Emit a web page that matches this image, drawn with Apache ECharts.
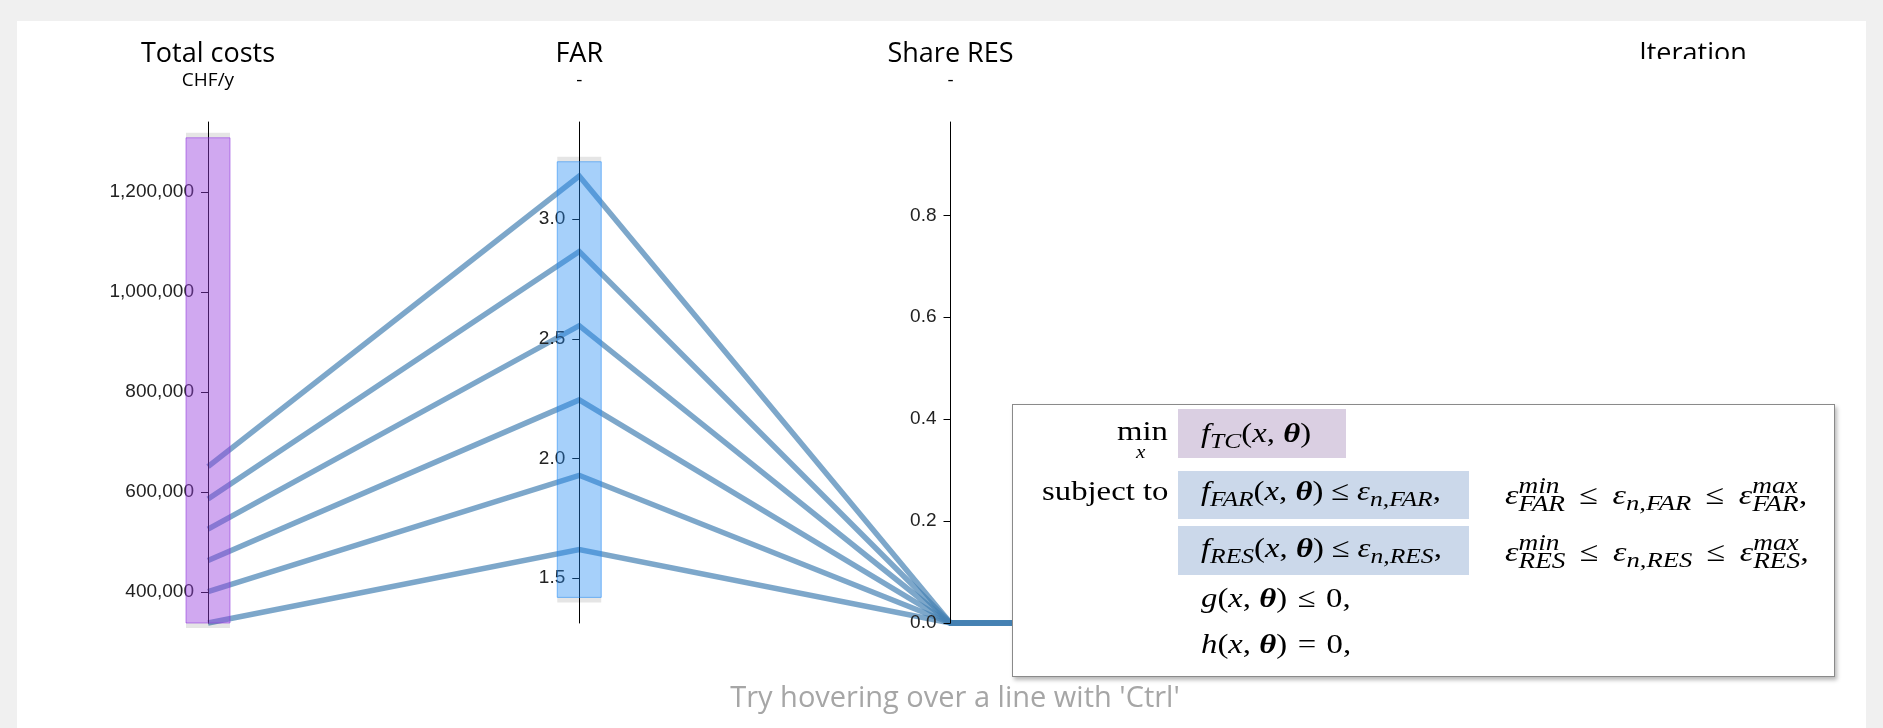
<!DOCTYPE html>
<html>
<head>
<meta charset="utf-8">
<script src="https://cdn.jsdelivr.net/npm/echarts@6/dist/echarts.min.js"></script>
<style>
  html, body { margin:0; padding:0; width:1883px; height:728px; overflow:hidden; background:#f0f0f0; }
  #panel { position:absolute; left:17px; top:21px; width:1849px; height:707px; background:#fff; }
  #chart { position:absolute; left:0; top:0; width:1883px; height:728px; }
  #box { position:absolute; left:1012px; top:404px; width:821px; height:271px; background:#fff;
         border:1px solid #8a8a8a; box-shadow:2px 3px 4px rgba(0,0,0,0.28); z-index:5;
         font-family:"Liberation Serif","DejaVu Serif",serif; color:#000; }
  .hl { position:absolute; }
  .t { position:absolute; white-space:nowrap; font-size:28px; line-height:28px; transform-origin:0 100%; transform:scaleX(1.17); }
  .t sub { font-size:0.78em; vertical-align:-0.28em; line-height:0; }
  .le { padding:0 0.32em; }
  .m .le { padding:0 0.24em; }
  .r .le { padding:0 0.42em; }
  .r { transform:scaleX(1.22); }
  .ss { display:inline-block; vertical-align:-0.34em; line-height:0.82em; font-size:0.8em; text-align:left; }
  .ss span { display:block; }
  i { font-style:italic; }
</style>
</head>
<body>
<div id="panel"></div>
<div id="chart"></div>
<div id="box">
  <div class="hl" style="left:165px;top:4px;width:168px;height:49px;background:#dacfe2"></div>
  <div class="hl" style="left:165px;top:66px;width:291px;height:48px;background:#cbd8ea"></div>
  <div class="hl" style="left:165px;top:121px;width:291px;height:49px;background:#cbd8ea"></div>
  <div class="t" style="left:104px;top:12px">min</div>
  <div class="t" style="left:123px;top:38px;font-size:18px;line-height:18px"><i>x</i></div>
  <div class="t" style="left:188px;top:14px"><i>f</i><sub><i>TC</i></sub>(<i>x</i>, <b><i>θ</i></b>)</div>
  <div class="t" style="left:29px;top:72px">subject to</div>
  <div class="t m" style="left:188px;top:72px"><i>f</i><sub><i>FAR</i></sub>(<i>x</i>, <b><i>θ</i></b>)<span class="le">≤</span><i>ε</i><sub><i>n,FAR</i></sub>,</div>
  <div class="t m" style="left:188px;top:129px"><i>f</i><sub><i>RES</i></sub>(<i>x</i>, <b><i>θ</i></b>)<span class="le">≤</span><i>ε</i><sub><i>n,RES</i></sub>,</div>
  <div class="t r" style="left:492px;top:72px"><i>ε</i><span class="ss"><span><i>min</i></span><span><i>FAR</i></span></span><span class="le">≤</span><i>ε</i><sub><i>n,FAR</i></sub><span class="le">≤</span><i>ε</i><span class="ss"><span><i>max</i></span><span><i>FAR</i></span></span>,</div>
  <div class="t r" style="left:492px;top:129px"><i>ε</i><span class="ss"><span><i>min</i></span><span><i>RES</i></span></span><span class="le">≤</span><i>ε</i><sub><i>n,RES</i></sub><span class="le">≤</span><i>ε</i><span class="ss"><span><i>max</i></span><span><i>RES</i></span></span>,</div>
  <div class="t" style="left:188px;top:179px"><i>g</i>(<i>x</i>, <b><i>θ</i></b>)<span class="le">≤</span>0,</div>
  <div class="t" style="left:188px;top:225px"><i>h</i>(<i>x</i>, <b><i>θ</i></b>)<span class="le">=</span>0,</div>
</div>
<script>
// ---- data ----
const axisNames = ['Total costs', 'FAR', 'Share RES', '', 'Iteration'];
const axisUnits = ['CHF/y', '-', '-', '', ' '];
const totalCosts = [651000, 586000, 526000, 463000, 401000, 338000];
const farValues = [3.18, 2.865, 2.555, 2.245, 1.93, 1.62];
const shareRes = [0, 0, 0, 0, 0, 0];
const hiddenDim = [0, 0, 0, 0, 0, 0];
const iteration = [1, 2, 3, 4, 5, 6];
const costTicks = [400000, 600000, 800000, 1000000, 1200000];
const farTicks = [1.5, 2.0, 2.5, 3.0];
const resTicks = [0, 0.2, 0.4, 0.6, 0.8];
const costRange = [338000, 1340600];
const farRange = [1.313, 3.406];
const resRange = [0, 0.983];
const hiddenRange = [0, 1];
const iterRange = [0, 20];
// brushed (selected) intervals shown as coloured bands
const costBrush = [338000, 1309000];
const farBrush = [1.42, 3.24];

const rows = totalCosts.map((c, i) => [c, farValues[i], shareRes[i], hiddenDim[i], iteration[i]]);

const chart = echarts.init(document.getElementById('chart'), null, { renderer: 'canvas' });

const nameRich = {
  t: { fontFamily: 'Open Sans', fontSize: 27, color: '#000', lineHeight: 31, align: 'center' },
  u: { fontFamily: 'Open Sans', fontSize: 19, color: '#000', lineHeight: 22, align: 'center' }
};
function axisBase(i, range, ticks, fmt) {
  const a = {
    dim: i,
    name: axisNames[i] ? '{t|' + axisNames[i] + '}\n{u|' + axisUnits[i] + '}' : '',
    nameLocation: 'end',
    nameGap: 30,
    nameTextStyle: { rich: nameRich },
    min: range[0], max: range[1],
    axisLine: { show: !!ticks, lineStyle: { color: '#000', width: 1 } },
    axisTick: { show: !!ticks, length: -7, lineStyle: { color: '#000', width: 1 } },
    axisLabel: { show: !!ticks, margin: -14, align: 'right', verticalAlign: 'middle',
                 fontFamily: 'Liberation Sans', fontSize: 19, color: '#222',
                 formatter: fmt || (() => '') },
    splitLine: { show: false }
  };
  if (ticks) { a.axisTick.customValues = ticks; a.axisLabel.customValues = ticks; }
  else { a.axisTick.customValues = []; a.axisLabel.customValues = []; }
  return a;
}
const parallelAxis = [
  axisBase(0, costRange, costTicks, v => echarts.format.addCommas(v)),
  axisBase(1, farRange, farTicks, v => Number(v).toFixed(1)),
  axisBase(2, resRange, resTicks, v => Number(v).toFixed(1)),
  axisBase(3, hiddenRange, null, null),
  axisBase(4, iterRange, null, null)
];

const baseGraphic = [
  { id: 'clipIter', type: 'rect', z: 100, shape: { x: 1620, y: 59, width: 160, height: 18 }, style: { fill: '#fff' } },
  { id: 'footer', type: 'text', z: 100, x: 955, y: 699,
    style: { text: "Try hovering over a line with 'Ctrl'", fontFamily: 'Open Sans', fontSize: 29, fill: '#a6a6a6', align: 'center', verticalAlign: 'middle' } }
];

chart.setOption({
  animation: false,
  backgroundColor: 'transparent',
  parallel: {
    left: 208, right: 190, top: 122, bottom: 105,
    layout: 'horizontal',
    axisExpandable: false
  },
  parallelAxis: parallelAxis,
  series: [{
    type: 'parallel',
    data: rows,
    smooth: false,
    lineStyle: { width: 5.5, color: '#4682b4', opacity: 0.7, join: 'miter' },
    emphasis: { disabled: true },
    z: 2
  }],
  graphic: baseGraphic
});

// brush bands placed through the parallel coordinate system's own axis scales
function brushBand(dimIndex, interval, fill, stroke, idp) {
  const cs = chart.getModel().getComponent('parallel', 0).coordinateSystem;
  const pTop = cs.dataToPoint(interval[1], 'dim' + dimIndex);
  const pBot = cs.dataToPoint(interval[0], 'dim' + dimIndex);
  const w = 44, x = pTop[0] - w / 2;
  return [
    { id: idp + 'capT', type: 'rect', z: 99, shape: { x: x, y: pTop[1] - 5, width: w, height: 5 }, style: { fill: 'rgba(0,0,0,0.10)' } },
    { id: idp + 'capB', type: 'rect', z: 99, shape: { x: x, y: pBot[1], width: w, height: 5 }, style: { fill: 'rgba(0,0,0,0.10)' } },
    { id: idp, type: 'rect', z: 99, shape: { x: x, y: pTop[1], width: w, height: pBot[1] - pTop[1] },
      style: { fill: fill, stroke: stroke, lineWidth: 1 } }
  ];
}
const bands = [].concat(
  brushBand(0, costBrush, 'rgba(150,62,222,0.45)', 'rgba(140,50,220,0.55)', 'bCost'),
  brushBand(1, farBrush, 'rgba(32,137,242,0.40)', 'rgba(32,137,242,0.55)', 'bFar')
);
chart.setOption({ graphic: baseGraphic.concat(bands) });
</script>
</body>
</html>
